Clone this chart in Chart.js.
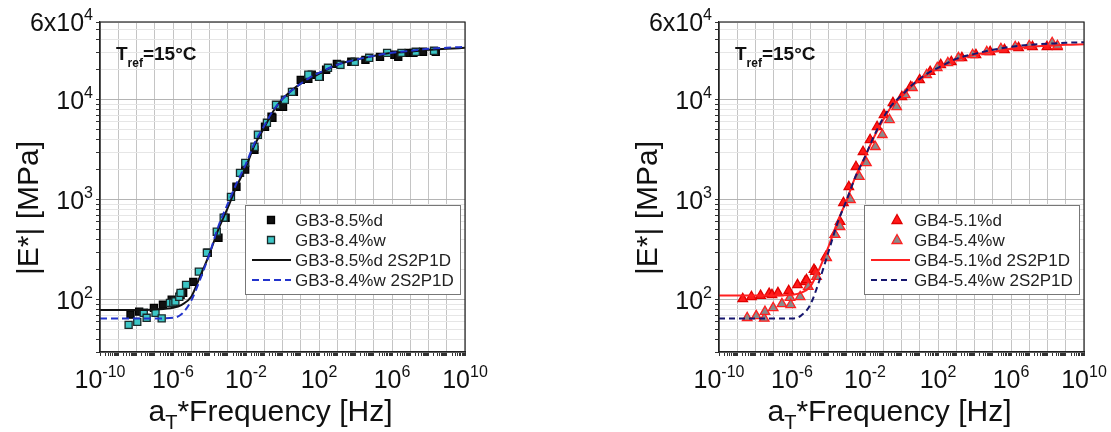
<!DOCTYPE html>
<html>
<head>
<meta charset="utf-8">
<script src="https://cdn.jsdelivr.net/npm/chart.js@4.4.1/dist/chart.umd.min.js"></script>
<style>
  html, body { margin: 0; padding: 0; background: #fff; }
  #wrap { position: relative; width: 1111px; height: 432px; }
  #c1 { position: absolute; left: 0; top: 0; }
  #c2 { position: absolute; left: 590px; top: 0; }
</style>
</head>
<body>
<div id="wrap">
  <canvas id="c1" width="590" height="432"></canvas>
  <canvas id="c2" width="521" height="432"></canvas>
</div>
<script>
// ---- data ----
// model curves (2S2P1D), same frequencies for all four
var modelFreq = [1e-10, 1e-8, 1e-7, 1e-6, 3e-6, 1e-5, 3e-5, 1e-4, 3e-4, 1e-3, 3e-3, 1e-2, 3e-2, 1e-1, 3e-1,
                 1, 3, 10, 30, 100, 1e3, 1e4, 1e5, 1e6, 1e7, 1e8, 1e9, 1e10];
var gb3dModel = [79, 79, 80, 83, 89, 107, 170, 288, 500, 830, 1350, 2140, 3550, 5250, 7600,
                 10200, 12300, 14500, 16200, 18200, 22400, 25100, 27500, 29500, 30200, 31600, 32400, 33100];
var gb3wModel = [65, 65, 65, 66, 72, 98, 158, 288, 537, 912, 1450, 2290, 3720, 5500, 7760,
                 10200, 12300, 14500, 16600, 18600, 22400, 25100, 27500, 29500, 30900, 32400, 33100, 33900];
var gb4dModel = [110, 110, 110, 112, 117, 135, 200, 340, 590, 1000, 1700, 2690, 4170, 6310, 8700,
                 10700, 13200, 15800, 18200, 20400, 25100, 28200, 30200, 32400, 33900, 34700, 35500, 35900];
var gb4wModel = [65, 65, 65, 65, 69, 89, 151, 302, 575, 1000, 1700, 2690, 4270, 6600, 8900,
                 11000, 13500, 16200, 18600, 20900, 25700, 28800, 31600, 33900, 35500, 36300, 37200, 37600];

// measured points
var gb3dFreq = [4.7e-9, 1.4e-8, 9e-8, 2.8e-7, 8.5e-7, 2.6e-6, 3.6e-6, 1.3e-5, 8e-5, 3.1e-4, 7.6e-4, 3e-3, 9e-3,
                2.9e-2, 0.11, 0.25, 0.28, 0.72, 1.07, 4.2, 10, 26, 40, 110, 245, 955, 5.9e3, 3.5e4, 2.2e5,
                1.35e6, 2.2e6, 8.1e6, 1.5e7, 5e7, 2.5e8];
var gb3dMod  = [71, 76, 83, 89, 100, 112, 117, 151, 295, 417, 661, 1350, 2000,
                3160, 5370, 6760, 6610, 8510, 8510, 12000, 15800, 16200, 17800, 17000, 20000, 22900, 24000, 25100, 26900,
                28200, 26900, 29500, 29500, 30200, 30200];
var gb3wFreq = [3.7e-9, 1.1e-8, 2.5e-8, 3.6e-8, 1.1e-7, 2.4e-7, 6.8e-7, 1.05e-6, 1.35e-6, 2.2e-6, 2.6e-6, 5.2e-6,
                2.6e-5, 7.2e-5, 2.5e-4, 6e-4, 1.5e-3, 4.7e-3, 9.1e-3, 2.9e-2, 4.5e-2, 0.14, 0.44, 1.35, 3.3,
                26, 100, 310, 1.5e3, 9.1e3, 5.6e4, 5.4e5, 3.3e6, 2e7, 2e8];
var gb3wMod  = [56, 60, 74, 66, 74, 65, 93, 93, 96, 107, 117, 141,
                191, 295, 479, 661, 1070, 1860, 2340, 3390, 4470, 5890, 8910, 10000, 12000,
                17800, 17000, 20900, 22400, 24000, 26300, 29500, 29500, 30200, 30900];
var gb4dFreq = [2e-9, 6e-9, 1.9e-8, 5.6e-8, 8e-8, 1.7e-7, 6.6e-7, 2e-6, 5.1e-6, 6.2e-6, 1.6e-5, 1.9e-5, 7.1e-5,
                2.2e-4, 4.3e-4, 6.6e-4, 1.3e-3, 3.2e-3, 7.8e-3, 1.9e-2, 4.6e-2, 0.11, 0.34, 1.05, 3.2, 9.8,
                37, 141, 537, 2040, 1.2e4, 7.2e4, 4.4e5, 2.6e6, 1.5e7, 9.3e7, 3.5e8];
var gb4dMod  = [102, 107, 110, 115, 112, 117, 123, 141, 151, 158, 200, 191, 269,
                447, 603, 933, 1350, 2140, 3020, 3980, 5370, 7080, 9330, 10700, 13500, 15800,
                19100, 22400, 24000, 26300, 28200, 30200, 31600, 33100, 33900, 33900, 33900];
var gb4wFreq = [3.5e-9, 1.1e-8, 3e-8, 3.3e-8, 9.3e-8, 2.8e-7, 7.8e-7, 8.5e-7, 2.8e-6, 7.8e-6, 2.2e-5, 7.9e-5,
                2.3e-4, 4.3e-4, 1.6e-3, 4.9e-3, 1.2e-2, 3.7e-2, 8.9e-2, 0.22, 0.54, 1.6, 4, 24, 91, 347,
                1320, 7900, 4.7e4, 2.8e5, 1.7e6, 1e7, 1.8e8, 3.5e8];
var gb4wMod  = [66, 69, 65, 76, 83, 91, 105, 89, 107, 135, 170, 263,
                447, 537, 1000, 1700, 2340, 3390, 4470, 6310, 8510, 11200, 13200, 17800, 20900, 23400,
                26300, 28200, 30200, 32400, 33900, 34700, 37200, 34700];

// axis ticks and labels
var xLabelExps = ['-10', '-6', '-2', '2', '6', '10'];
var yLabelVals = [100, 1000, 10000, 60000];
var yLabelBase = ['10', '10', '10', '6x10'];
var yLabelExp  = ['2', '3', '4', '4'];

function pts(xs, ys) {
  return xs.map(function (x, i) { return { x: x, y: ys[i] }; });
}

function decadeTicks(lo, hi, min, max) {
  var t = [];
  for (var e = lo; e <= hi; e++) {
    for (var m = 1; m <= 9; m++) {
      var v = m * Math.pow(10, e);
      if (v >= min * 0.999 && v <= max * 1.001) t.push({ value: v });
    }
  }
  return t;
}

function isDecade(v) {
  var l = Math.log10(v);
  return Math.abs(l - Math.round(l)) < 1e-6;
}

var FONT = "'Liberation Sans', Arial, sans-serif";

function drawPow(ctx, base, exp, x, y, align) {
  ctx.font = '25px ' + FONT;
  var wb = ctx.measureText(base).width;
  ctx.font = '16px ' + FONT;
  var we = ctx.measureText(exp).width;
  var start = align === 'right' ? x - wb - we : x - (wb + we) / 2;
  ctx.textAlign = 'left';
  ctx.textBaseline = 'alphabetic';
  ctx.font = '25px ' + FONT;
  ctx.fillText(base, start, y);
  ctx.font = '16px ' + FONT;
  ctx.fillText(exp, start + wb, y - 11);
}

var decor = {
  id: 'decor',
  afterDraw: function (chart) {
    var ctx = chart.ctx, a = chart.chartArea;
    var xs = chart.scales.x, ys = chart.scales.y;
    var o = chart.options.plugins.decor;
    ctx.save();

    // frame
    ctx.strokeStyle = '#222';
    ctx.lineWidth = 1.2;
    ctx.strokeRect(a.left, a.top, a.right - a.left, a.bottom - a.top);

    // tick labels
    ctx.fillStyle = '#111';
    xLabelExps.forEach(function (e) {
      drawPow(ctx, '10', e, xs.getPixelForValue(Math.pow(10, +e)), a.bottom + 36, 'center');
    });
    yLabelVals.forEach(function (v, i) {
      drawPow(ctx, yLabelBase[i], yLabelExp[i], a.left - 7, ys.getPixelForValue(v) + 9, 'right');
    });

    // axis titles
    ctx.font = '30px ' + FONT;
    ctx.textBaseline = 'alphabetic';
    ctx.save();
    ctx.translate(a.left - 62, (a.top + a.bottom) / 2 + 21);
    ctx.rotate(-Math.PI / 2);
    ctx.textAlign = 'center';
    ctx.fillText('|E*| [MPa]', 0, 0);
    ctx.restore();

    ctx.textAlign = 'left';
    ctx.font = '30px ' + FONT;
    var wA = ctx.measureText('a').width;
    var wR = ctx.measureText('*Frequency [Hz]').width;
    ctx.font = '20px ' + FONT;
    var wT = ctx.measureText('T').width;
    var sx = (a.left + a.right) / 2 - 12 - (wA + wT + wR) / 2;
    var by = 421;
    ctx.font = '30px ' + FONT;
    ctx.fillText('a', sx, by);
    ctx.font = '20px ' + FONT;
    ctx.fillText('T', sx + wA, by + 8);
    ctx.font = '30px ' + FONT;
    ctx.fillText('*Frequency [Hz]', sx + wA + wT, by);

    // T_ref label
    ctx.fillStyle = '#111';
    var tx = a.left + 16;
    ctx.font = 'bold 19px ' + FONT;
    ctx.fillText('T', tx, 60);
    var w1 = ctx.measureText('T').width;
    ctx.font = 'bold 12px ' + FONT;
    ctx.fillText('ref', tx + w1, 67);
    var w2 = ctx.measureText('ref').width;
    ctx.font = 'bold 19px ' + FONT;
    ctx.fillText('=15\u00b0C', tx + w1 + w2, 60);

    // legend box
    var bx0 = a.left + 145, bx1 = a.right - 5, by0 = 205, by1 = 294;
    ctx.fillStyle = '#fff';
    ctx.fillRect(bx0, by0, bx1 - bx0, by1 - by0);
    ctx.strokeStyle = '#777';
    ctx.lineWidth = 1;
    ctx.strokeRect(bx0 + 0.5, by0 + 0.5, bx1 - bx0, by1 - by0);
    var rows = [220, 240, 260, 280];
    o.legendOrder.forEach(function (di, r) {
      var ds = chart.data.datasets[di];
      var cy = rows[r];
      if (ds.showLine) {
        ctx.strokeStyle = ds.borderColor;
        ctx.lineWidth = ds.borderWidth;
        ctx.setLineDash(ds.borderDash || []);
        ctx.beginPath();
        ctx.moveTo(bx0 + 7, cy);
        ctx.lineTo(bx0 + 46, cy);
        ctx.stroke();
        ctx.setLineDash([]);
      } else {
        var mx = bx0 + o.markerOffset;
        ctx.fillStyle = ds.backgroundColor;
        ctx.strokeStyle = ds.borderColor;
        ctx.lineWidth = ds.borderWidth;
        ctx.beginPath();
        if (ds.pointStyle === 'rect') {
          ctx.rect(mx - 3.5, cy - 3.5, 7, 7);
        } else {
          ctx.moveTo(mx, cy - 5.5);
          ctx.lineTo(mx + 5, cy + 3.5);
          ctx.lineTo(mx - 5, cy + 3.5);
          ctx.closePath();
        }
        ctx.fill();
        ctx.stroke();
      }
      ctx.fillStyle = '#222';
      ctx.font = '17px ' + FONT;
      ctx.textBaseline = 'middle';
      ctx.fillText(ds.label, bx0 + 50, cy + 1);
      ctx.textBaseline = 'alphabetic';
    });

    ctx.restore();
  }
};

function makeChart(id, datasets, yWidth, padRight, legendOrder, markerOffset) {
  return new Chart(document.getElementById(id), {
    type: 'scatter',
    data: { datasets: datasets },
    options: {
      responsive: false,
      animation: false,
      events: [],
      layout: { padding: { top: 22, right: padRight, left: 0, bottom: 0 } },
      plugins: {
        legend: { display: false },
        tooltip: { enabled: false },
        decor: { legendOrder: legendOrder, markerOffset: markerOffset }
      },
      scales: {
        x: {
          type: 'logarithmic',
          min: 1e-10,
          max: 1e10,
          afterBuildTicks: function (s) { s.ticks = decadeTicks(-10, 10, 1e-10, 1e10); },
          afterFit: function (s) { s.height = 80; },
          ticks: { display: false },
          grid: {
            color: function (c) { return c.tick && isDecade(c.tick.value) ? '#c4c4c4' : 'rgba(0,0,0,0)'; },
            tickColor: '#333',
            tickLength: 4,
            lineWidth: 1
          },
          border: { color: '#222', width: 1.2 }
        },
        y: {
          type: 'logarithmic',
          min: 30,
          max: 60000,
          afterBuildTicks: function (s) { s.ticks = decadeTicks(1, 4, 30, 60000); },
          afterFit: function (s) { s.width = yWidth; },
          ticks: { display: false },
          grid: {
            color: function (c) { return c.tick && isDecade(c.tick.value) ? '#b4b4b4' : '#e6e6e6'; },
            tickColor: '#333',
            tickLength: 4,
            lineWidth: 1
          },
          border: { color: '#222', width: 1.2 }
        }
      }
    },
    plugins: [decor]
  });
}

function pointSet(label, data, style, fill, edge, radius, order) {
  return {
    label: label, data: data, pointStyle: style, pointRadius: radius,
    backgroundColor: fill, borderColor: edge, borderWidth: 1.3,
    pointBackgroundColor: fill, pointBorderColor: edge, showLine: false, order: order
  };
}

function lineSet(label, data, color, dash, order) {
  return {
    label: label, data: data, showLine: true, pointRadius: 0,
    borderColor: color, borderWidth: 2, borderDash: dash,
    cubicInterpolationMode: 'monotone', fill: false, order: order
  };
}

makeChart('c1', [
  pointSet('GB3-8.5%d', pts(gb3dFreq, gb3dMod), 'rect', '#111', '#000', 5, 3),
  pointSet('GB3-8.4%w', pts(gb3wFreq, gb3wMod), 'rect', '#3cc6c6', '#1a2a2a', 5, 2),
  lineSet('GB3-8.5%d 2S2P1D', pts(modelFreq, gb3dModel), '#111', [], 1),
  lineSet('GB3-8.4%w 2S2P1D', pts(modelFreq, gb3wModel), '#2233cc', [7, 4], 0)
], 100, 125, [0, 1, 2, 3], 26);

makeChart('c2', [
  pointSet('GB4-5.1%d', pts(gb4dFreq, gb4dMod), 'triangle', '#ff1a1a', '#e00000', 5.5, 3),
  pointSet('GB4-5.4%w', pts(gb4wFreq, gb4wMod), 'triangle', '#8a8a8a', '#ff2020', 5.5, 2),
  lineSet('GB4-5.1%d 2S2P1D', pts(modelFreq, gb4dModel), '#ff2020', [], 1),
  lineSet('GB4-5.4%w 2S2P1D', pts(modelFreq, gb4wModel), '#16166e', [6, 4], 0)
], 129, 27, [0, 1, 2, 3], 33);
</script>
</body>
</html>
